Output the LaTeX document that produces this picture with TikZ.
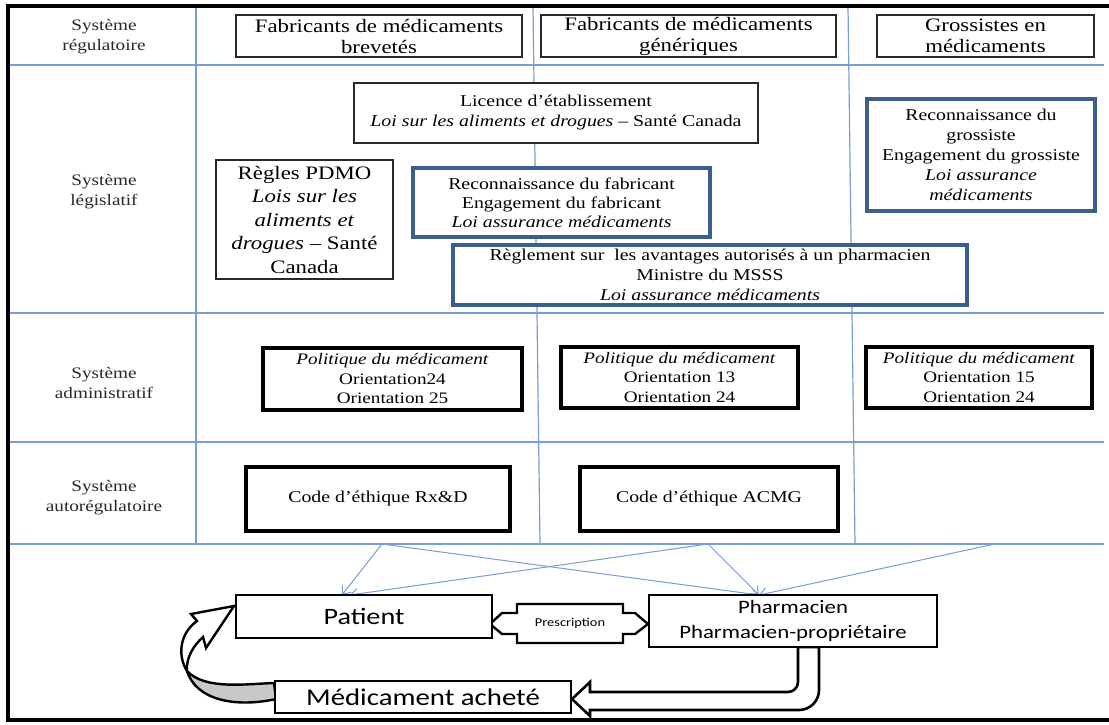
\documentclass[tikz,border=0pt]{standalone}
\usepackage{fontspec}
\setmainfont{Liberation Serif}[FakeStretch=1.2]
\newfontfamily\calfont{Carlito}[FakeStretch=1.2]
\usetikzlibrary{arrows.meta}
\definecolor{gridblue}{RGB}{120,158,212}
\definecolor{edgeblue}{RGB}{58,94,142}
\definecolor{inkgray}{RGB}{40,40,40}
\definecolor{twistgray}{RGB}{200,200,200}

\begin{document}
\begin{tikzpicture}[x=1pt,y=-1pt,
  gridline/.style={draw=gridblue,line width=1.2pt},
  rowlabel/.style={align=center,inner sep=0pt,text=inkgray,font=\fontsize{16}{20}\selectfont},
  boxthin/.style={draw=inkgray,line width=1.6pt,fill=white,align=center,inner sep=0pt,text=black,font=\fontsize{16.5}{20}\selectfont},
  boxhead/.style={boxthin,font=\fontsize{19}{21}\selectfont},
  boxblue/.style={boxthin,draw=edgeblue,line width=3.2pt},
  boxheavy/.style={boxthin,draw=black,line width=3.4pt,font=\fontsize{16}{19.5}\selectfont},
  boxsans/.style={draw=black,line width=2.6pt,fill=white,align=center,inner sep=0pt,text=black},
  link/.style={draw=gridblue,line width=1pt,-{Straight Barb[length=7pt,width=11pt]}},
  blockarrow/.style={draw=black,line width=2.6pt,fill=white,line join=miter}
]
\useasboundingbox (0,0) rectangle (1109,724);
\fill[white] (0,0) rectangle (1109,724);

% table grid
\draw[gridline] (8,65) -- (1104,65);
\draw[gridline] (8,313) -- (1104,313);
\draw[gridline] (8,442) -- (1104,442);
\draw[gridline] (8,544) -- (1104,544);
\draw[gridline] (196,6) -- (196,544);
\draw[gridline] (533,6) -- (540,544);
\draw[gridline] (848,6) -- (855,544);

% row labels
\node[rowlabel] (lreg) at (104,37) {Système\\régulatoire};
\node[rowlabel] (lleg) at (104,192) {Système\\législatif};
\node[rowlabel] (ladm) at (104,383) {Système\\administratif};
\node[rowlabel] (laut) at (104,498) {Système\\autorégulatoire};

% column headers
\node[boxhead,minimum width=286,minimum height=42] (brev) at (379,36) {Fabricants de médicaments\\brevetés};
\node[boxhead,minimum width=295,minimum height=42] (gene) at (688.5,36) {Fabricants de médicaments\\génériques};
\node[boxhead,minimum width=217,minimum height=42] (gros) at (985.5,36) {Grossistes en\\médicaments};

% legislative system
\node[boxthin,minimum width=404,minimum height=60] (licence) at (556,113)
  {Licence d’établissement\\\textit{Loi sur les aliments et drogues} – Santé Canada};
\node[boxthin,minimum width=177,minimum height=119,font=\fontsize{19}{23.5}\selectfont] (pdmo) at (304.5,219.5)
  {Règles PDMO\\\textit{Lois sur les}\\\textit{aliments et}\\\textit{drogues} – Santé\\Canada};
\node[boxblue,minimum width=297,minimum height=69,font=\fontsize{16.5}{19}\selectfont] (recfab) at (561.5,202.5)
  {Reconnaissance du fabricant\\Engagement du fabricant\\\textit{Loi assurance médicaments}};
\node[boxblue,minimum width=514,minimum height=60] (regl) at (710,275)
  {Règlement sur\ \ les avantages autorisés à un pharmacien\\Ministre du MSSS\\\textit{Loi assurance médicaments}};
\node[boxblue,minimum width=228,minimum height=112] (recgros) at (981,155)
  {Reconnaissance du\\grossiste\\Engagement du grossiste\\\textit{Loi assurance}\\\textit{médicaments}};

% administrative system
\node[boxheavy,minimum width=259,minimum height=62] (pol1) at (392.5,379)
  {\textit{Politique du médicament}\\Orientation24\\Orientation 25};
\node[boxheavy,minimum width=237,minimum height=61] (pol2) at (679.5,377.5)
  {\textit{Politique du médicament}\\Orientation 13\\Orientation 24};
\node[boxheavy,minimum width=226,minimum height=61] (pol3) at (979,377.5)
  {\textit{Politique du médicament}\\Orientation 15\\Orientation 24};

% self-regulatory system
\node[boxheavy,minimum width=264,minimum height=64,font=\fontsize{16.5}{20}\selectfont] (rxd) at (378,499) {Code d’éthique Rx\&D};
\node[boxheavy,minimum width=258,minimum height=64,font=\fontsize{16.5}{20}\selectfont] (acmg) at (709,499) {Code d’éthique ACMG};

% influence links from the table
\coordinate (s1) at (382,544);
\coordinate (s2) at (708,544);
\coordinate (s3) at (995,544);
\coordinate (p1) at (342,595);
\coordinate (p2) at (350,595);
\coordinate (q1) at (759,595);
\draw[link] (s1) -- (p1);
\draw[link] (s1) -- (q1);
\draw[link] (s2) -- (p2);
\draw[link] (s2) -- (q1);
\draw[link] (s3) -- (q1);

% dispensing arrow from the pharmacist to the purchased drug
\draw[blockarrow] (798,647) [rounded corners=10pt] -- (798,692) -- (700,692) [sharp corners]
  -- (590,692) -- (590,682) -- (572,699) -- (590,716) -- (590,710) -- (700,710)
  [rounded corners=20pt] -- (819,710) -- (819,670) [sharp corners] -- (819,647) -- cycle;

% curved arrow back to the patient
\draw[draw=black,line width=2.4pt,fill=twistgray,line join=round]
  (187,671) .. controls (205,690) and (245,684) .. (274,683) -- (276,699)
  .. controls (235,708) and (196,700) .. (187,671) -- cycle;
\draw[draw=black,line width=2.4pt,fill=white,line join=miter]
  (197,621) -- (191,614) -- (234,606) -- (206,648) -- (203,637)
  .. controls (193,646) and (186,658) .. (187,671)
  .. controls (177,655) and (180,633) .. (197,621) -- cycle;

% prescription exchange
\draw[blockarrow,line width=2.4pt] (490,624) -- (502,613) -- (517,613) -- (517,604) -- (623,604)
  -- (623,613) -- (635,613) -- (648,624) -- (635,634) -- (623,634) -- (623,643)
  -- (517,643) -- (517,634) -- (502,634) -- cycle;
\node[inner sep=0pt,font=\calfont\fontsize{12}{14}\selectfont] (presc) at (570,623.5) {Prescription};

% actors
\node[boxsans,minimum width=256,minimum height=43,font=\calfont\fontsize{23.5}{26}\selectfont] (patient) at (364,616.5) {Patient};
\node[boxsans,minimum width=288,minimum height=52,font=\calfont\fontsize{19}{25}\selectfont] (pharm) at (793,621) {Pharmacien\\Pharmacien-propriétaire};
\node[boxsans,minimum width=296,minimum height=32,font=\calfont\fontsize{24}{26}\selectfont] (medic) at (423,697) {Médicament acheté};

% outer frame
\draw[black,line width=3.6pt] (1109,6) -- (8,6) -- (8,720) -- (1109,720);
\end{tikzpicture}
\end{document}
